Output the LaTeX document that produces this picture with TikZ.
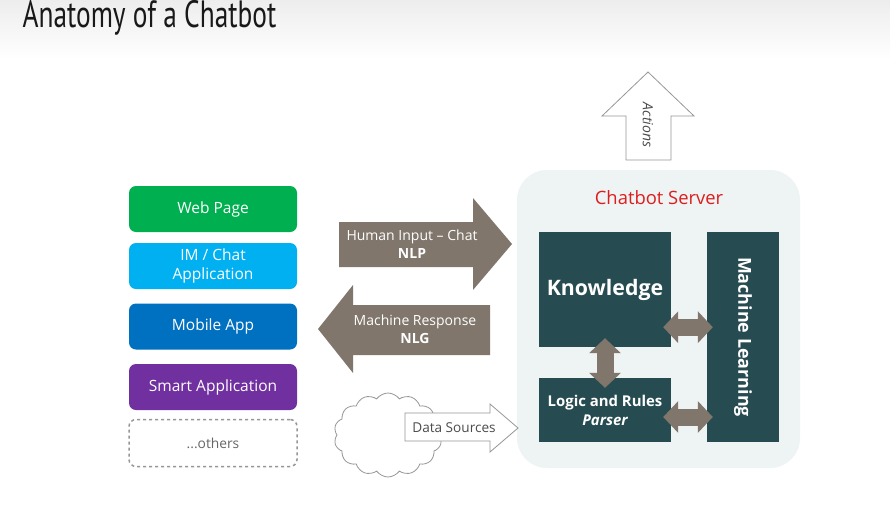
\documentclass[tikz,border=0pt]{standalone}
\usepackage{fontspec}
\setmainfont{Open Sans}
\newfontfamily\titlefont{PT Sans}
\usetikzlibrary{shapes,arrows.meta,positioning}

\definecolor{webgreen}{RGB}{0,176,80}
\definecolor{chatblue}{RGB}{0,176,240}
\definecolor{mobileblue}{RGB}{0,112,192}
\definecolor{smartpurple}{RGB}{112,48,160}
\definecolor{flowgray}{RGB}{128,118,108}
\definecolor{panelteal}{RGB}{38,75,81}
\definecolor{serverbg}{RGB}{238,243,243}
\definecolor{outlinegray}{RGB}{150,150,150}
\definecolor{servered}{RGB}{220,30,30}

\begin{document}
\begin{tikzpicture}[
    x=1pt, y=-1pt,
    client/.style={rectangle, rounded corners=7pt, text=white, align=center, minimum width=168pt, minimum height=46pt, inner sep=0pt, font=\fontsize{15.5}{17}\selectfont},
    panel/.style={rectangle, fill=panelteal, text=white, align=center, inner sep=0pt},
    flow_label/.style={text=white, align=center, font=\fontsize{14}{18}\selectfont},
    hollow/.style={draw=outlinegray, fill=white, line width=0.8pt},
    dblarrow/.style={draw=flowgray, line width=17pt, {Triangle[length=15pt,width=31pt]}-{Triangle[length=15pt,width=31pt]}}
]
\useasboundingbox (0,0) rectangle (890,522);
\fill[top color=black!7, bottom color=white] (0,0) rectangle (890,60);
% Title
\node[anchor=west, xscale=0.72, transform shape, text=black!90, font=\titlefont\fontsize{38}{40}\selectfont] (title) at (20,18) {Anatomy of a Chatbot};
% Client channels (left column)
\node[client, fill=webgreen] (web) at (213,209) {Web Page};
\node[client, fill=chatblue, font=\fontsize{15.5}{19.5}\selectfont] (im) at (213,266) {IM / Chat\\Application};
\node[client, fill=mobileblue] (mobile) at (213,326.5) {Mobile App};
\node[client, fill=smartpurple] (smart) at (213,387) {Smart Application};
\node[client, draw=outlinegray, dashed, line width=1.5pt, fill=white, text=black!60, minimum height=47pt, font=\fontsize{13.8}{15}\selectfont] (others) at (213,443) {...others};
% Chatbot server
\node[rectangle, rounded corners=30pt, fill=serverbg, minimum width=283pt, minimum height=298pt] (server) at (658.5,319) {};
\node[text=servered, font=\fontsize{18.4}{20}\selectfont] (server_label) at (659,198) {Chatbot Server};
\node[panel, minimum width=132pt, minimum height=115pt, font=\bfseries\fontsize{21.3}{23}\selectfont] (knowledge) at (605,289.5) {Knowledge};
\node[panel, minimum width=132pt, minimum height=64pt, font=\bfseries\fontsize{14.9}{19}\selectfont] (logic) at (605,410) {Logic and Rules\\\itshape Parser};
\node[panel, minimum width=72pt, minimum height=210pt] (ml) at (743,337) {};
\node[rotate=-90, text=white, font=\bfseries\fontsize{17.9}{20}\selectfont] (ml_label) at (ml.center) {Machine Learning};
% Arrows - inside the server
\draw[dblarrow, shorten <=-8pt, shorten >=-6pt] ([yshift=20pt]knowledge.south east) -- ([yshift=20pt]knowledge.south east -| ml.west);
\draw[dblarrow, shorten <=-8pt, shorten >=-6pt] ([yshift=-7pt]logic.east) -- ([yshift=-7pt]logic.east -| ml.west);
\draw[dblarrow, shorten <=-9pt, shorten >=-10pt] (knowledge.south) -- (logic.north);
% Arrows - conversation
\fill[flowgray] (339,222) -- (473,222) -- (473,198) -- (512,244) -- (473,290) -- (473,267) -- (339,267) -- cycle;
\node[flow_label] (human_input) at (412,244) {Human Input -- Chat\\\textbf{NLP}};
\fill[flowgray] (490,305) -- (353,305) -- (353,285) -- (318,329) -- (353,373) -- (353,355) -- (490,355) -- cycle;
\node[flow_label] (machine_response) at (415,329) {Machine Response\\\textbf{NLG}};
% Data sources
\node[cloud, cloud ignores aspect, draw=outlinegray, fill=white, line width=0.8pt, cloud puffs=14, cloud puff arc=110, minimum width=108pt, minimum height=84pt] (cloud) at (388,435) {};
\draw[hollow] (405,413) -- (490,413) -- (490,404) -- (518,428) -- (490,452) -- (490,441) -- (405,441) -- cycle;
\node[text=black!70, font=\fontsize{13.6}{15}\selectfont] (data_sources) at (454,428) {Data Sources};
% Actions
\draw[hollow] (626,160) -- (626,116) -- (602,116) -- (648,72) -- (694,116) -- (671,116) -- (671,160) -- cycle;
\node[rotate=-90, text=black!70, font=\itshape\fontsize{14}{15}\selectfont] (actions) at (648,125) {Actions};
\end{tikzpicture}
\end{document}
